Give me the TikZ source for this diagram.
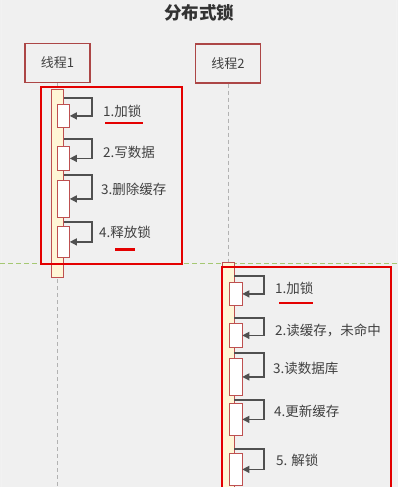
\documentclass[tikz,border=0pt]{standalone}
\usepackage{fontspec}
\setmainfont{Noto Sans CJK SC}
\usetikzlibrary{arrows.meta,calc,positioning}
\definecolor{bgc}{RGB}{240,240,240}
\definecolor{thr}{RGB}{172,70,70}
\definecolor{hl}{RGB}{228,0,0}
\definecolor{barf}{RGB}{255,246,214}
\definecolor{barl}{RGB}{190,80,80}
\definecolor{arr}{RGB}{80,80,80}
\definecolor{txt}{RGB}{64,64,64}
\definecolor{divg}{RGB}{165,200,115}

\begin{document}
\begin{tikzpicture}[x=1pt,y=-1pt,>={Triangle[length=7pt,width=7pt]},
  thread/.style={draw=thr,line width=1.1pt,fill=bgc,minimum width=65pt,minimum height=39pt,font=\fontsize{13}{14}\selectfont,text=txt},
  life/.style={draw=gray!60,dash pattern=on 4pt off 3pt,line width=0.8pt},
  frame/.style={draw=hl,line width=1.6pt},
  bar/.style={draw=barl,fill=barf,line width=0.8pt,minimum width=12pt,inner sep=0pt,anchor=north west},
  sub/.style={draw=barl,fill=white,line width=0.8pt,minimum width=12pt,inner sep=0pt,anchor=north west},
  call/.style={->,draw=arr,line width=1.2pt},
  lbl/.style={anchor=west,inner sep=0pt,font=\fontsize{13.5}{14}\selectfont,text=txt},
  uline/.style={draw=hl,line width=2.2pt}]
  \useasboundingbox (0,0) rectangle (398,487);
  \fill[bgc] (0,0) rectangle (398,487);
  \draw[white!90!gray,line width=1pt] (1.5,-2) rectangle (396.5,489);
  % title and threads
  \node[font=\bfseries\fontsize{17.5}{18}\selectfont,text=txt!80!black] (title) at (199,13) {分布式锁};
  \node[thread] (t1) at (57.5,63) {线程1};
  \node[thread] (t2) at (228,63.5) {线程2};
  \coordinate (t1end) at (57.5,487);
  \coordinate (t2end) at (228,487);
  \draw[life] (t1.south) -- (t1end);
  \draw[life] (t2.south) -- (t2end);
  % divider
  \coordinate (dl) at (0,263);
  \coordinate (dr) at (398,263);
  \draw[divg,line width=1pt,dash pattern=on 5pt off 3pt] (dl) -- (dr);
  % thread 1
  \node[bar,minimum height=188pt] (b1) at (51,89) {};
  \foreach \n/\y/\h/\ys in {1/104/23/98,2/146/24/139,3/180/37/175,4/226/31/222} {
    \node[sub,minimum height=\h pt] (s\n) at (57,\y) {};
    \draw[call] (b1.east |- 0,\ys) -- (92,\ys) |- (s\n.east);
  }
  \node[lbl] (la1) at (103,111) {1.加锁};
  \node[lbl] (la2) at (103,152) {2.写数据};
  \node[lbl] (la3) at (101,189) {3.删除缓存};
  \node[lbl] (la4) at (99,232) {4.释放锁};
  \draw[uline] (105,123) -- (143,123);
  \draw[hl,line width=3pt] (115,249) -- (135,249);
  \draw[frame] (41,87) rectangle (182,264);
  % thread 2
  \node[bar,minimum height=235pt] (b2) at (221.5,262) {};
  \foreach \n/\y/\h/\ys in {1/282/23/276,2/323/24/318,3/358/37/353,4/403/32/400,5/453/32/449} {
    \node[sub,minimum height=\h pt,minimum width=13pt] (r\n) at (228.5,\y) {};
    \draw[call] (b2.east |- 0,\ys) -- (264,\ys) |- (r\n.east);
  }
  \node[lbl] (lb1) at (275,288) {1.加锁};
  \node[lbl] (lb2) at (275,330) {2.读缓存，未命中};
  \node[lbl] (lb3) at (273,368) {3.读数据库};
  \node[lbl] (lb4) at (274,411) {4.更新缓存};
  \node[lbl] (lb5) at (276,460) {5. 解锁};
  \draw[uline] (279,303) -- (313,303);
  \draw[frame] (222,267) rectangle (391,495);
\end{tikzpicture}
\end{document}
